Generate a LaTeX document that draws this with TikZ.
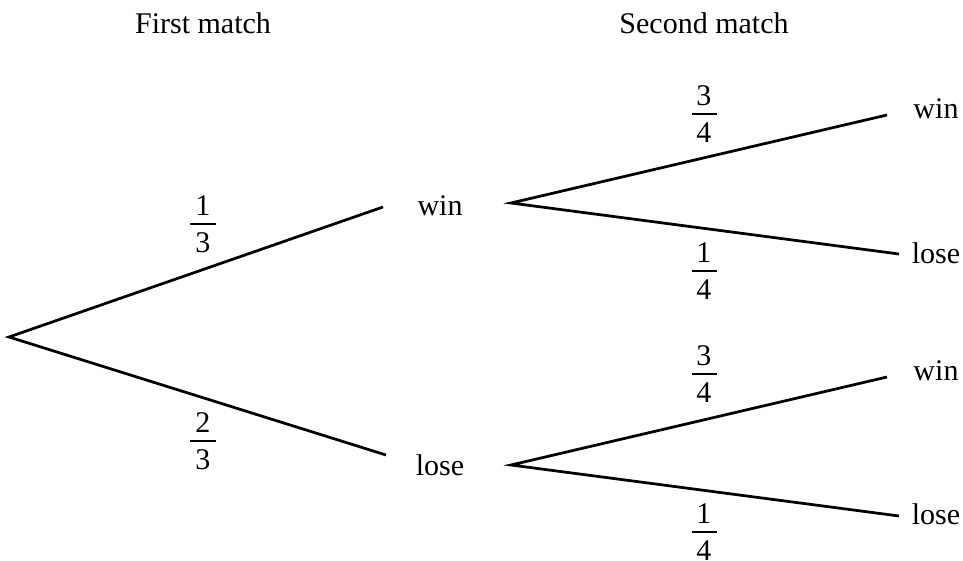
\documentclass[tikz,border=0pt]{standalone}
\usepackage{amsmath}
\usepackage{fontspec}
\setmainfont{Liberation Serif}
\usetikzlibrary{calc}

\newcommand{\prob}[2]{$\genfrac{}{}{0.7pt}{0}{\raisebox{-1.6pt}{\,\text{#1}\,}}{\,\text{#2}\,}$}

\begin{document}
\begin{tikzpicture}[x=0.4pt, y=-0.4pt,
  every node/.style={font=\fontsize{12}{14}\selectfont, inner sep=0pt},
  branch/.style={black, line width=1.1pt},
  frac/.style={anchor=base}]
\useasboundingbox (0,0) rectangle (963,561);
% headings
\node[anchor=base] (first) at (203,33) {First match};
\node[anchor=base] (second) at (704,33) {Second match};
% first match
\coordinate (root) at (9,337);
\coordinate (w1) at (383,207);
\coordinate (l1) at (386,455);
\node[anchor=base] (win) at (440,215) {win};
\node[anchor=base] (lose) at (440,475) {lose};
\draw[branch] (w1) -- (root) -- (l1);
\node[frac] (pw) at (203,231.5) {\prob{1}{3}};
\node[frac] (pl) at (203,448.5) {\prob{2}{3}};
% second match
\coordinate (w0) at (511,203);
\coordinate (l0) at (511,465);
\coordinate (ww) at (887,115);
\coordinate (wl) at (899,254);
\coordinate (lw) at (887,377);
\coordinate (ll) at (899,516);
\draw[branch] (ww) -- (w0) -- (wl);
\draw[branch] (lw) -- (l0) -- (ll);
\node[anchor=base] (winwin) at (936,118) {win};
\node[anchor=base] (winlose) at (936,263) {lose};
\node[anchor=base] (losewin) at (936,380) {win};
\node[anchor=base] (loselose) at (936,524) {lose};
\node[frac] (pww) at (704,121.5) {\prob{3}{4}};
\node[frac] (pwl) at (704,278.5) {\prob{1}{4}};
\node[frac] (plw) at (704,381.5) {\prob{3}{4}};
\node[frac] (pll) at (704,539.5) {\prob{1}{4}};
\end{tikzpicture}
\end{document}
